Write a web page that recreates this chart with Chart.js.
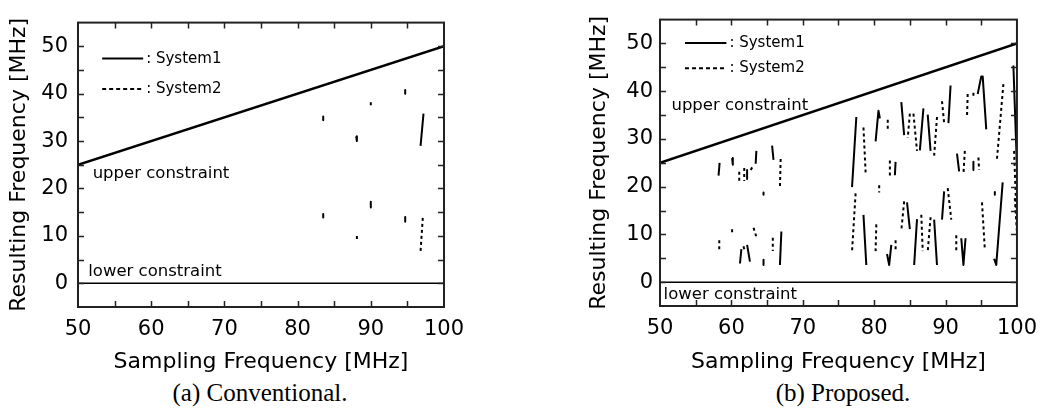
<!DOCTYPE html>
<html>
<head>
<meta charset="utf-8">
<script src="https://cdn.jsdelivr.net/npm/chart.js@4.4.1/dist/chart.umd.min.js"></script>
<style>
  body { margin: 0; background: #fff; width: 1047px; height: 412px; overflow: hidden; position: relative; }
  canvas { position: absolute; top: 0; }
  .caption {
    position: absolute; top: 379px; width: 300px; text-align: center;
    font-family: "Liberation Serif", "Times New Roman", serif; font-size: 25px; color: #000;
  }
</style>
</head>
<body>
<canvas id="chartA" width="520" height="375" style="left:0"></canvas>
<canvas id="chartB" width="467" height="375" style="left:580px"></canvas>
<div class="caption" style="left:110px">(a) Conventional.</div>
<div class="caption" style="left:693px">(b) Proposed.</div>
<script>
// axis ticks
const xTicks = [50, 60, 70, 80, 90, 100];
const yTicks = [0, 10, 20, 30, 40, 50];
const minorStep = 5;

// constraints: fs/2 upper, 0 lower
const upperX = [50, 100];
const upperY = [25, 50];
const lowerX = [50, 100];
const lowerY = [0, 0];

// (a) conventional: each entry is a polyline x1,y1,x2,y2,...
const convSystem1 = [
    [83.5, 35.2, 83.5, 34.4],
    [83.5, 14.6, 83.5, 13.9],
    [88.0, 31.0, 88.1, 30.0],
    [90.0, 17.2, 90.0, 16.0],
    [94.7, 40.8, 94.7, 40.0],
    [94.7, 14.0, 94.7, 13.0],
    [97.2, 35.8, 96.8, 29.0]
];
const convSystem2 = [
    [88.1, 10.0, 88.1, 8.8],
    [90.0, 38.2, 90.0, 37.0],
    [97.1, 13.8, 96.8, 6.8]
];

// (b) proposed
const propSystem1 = [
    [58.35, 25.0, 58.2, 22.3],
    [60.1, 26.0, 60.2, 24.6],
    [62.2, 23.5, 62.2, 21.6],
    [63.5, 27.5, 63.4, 24.8],
    [65.7, 28.6, 65.9, 25.6],
    [64.5, 18.8, 64.5, 18.3],
    [61.2, 3.9, 61.4, 6.9],
    [62.2, 7.8, 62.6, 4.3],
    [64.5, 4.7, 64.5, 3.6],
    [67.0, 10.6, 66.8, 3.6],
    [77.5, 34.6, 76.9, 19.9],
    [78.5, 14.1, 78.9, 3.6],
    [80.2, 29.5, 80.6, 35.9, 80.8, 34.3],
    [83.0, 25.2, 82.9, 22.4],
    [83.8, 37.7, 84.2, 30.8],
    [86.4, 27.6, 86.9, 36.4],
    [87.5, 35.1, 87.9, 27.5],
    [90.4, 33.3, 90.7, 41.2],
    [81.8, 5.9, 82.1, 3.6, 82.4, 7.8],
    [84.6, 16.7, 85.0, 11.1],
    [85.6, 3.6, 86.0, 13.2],
    [88.4, 13.1, 88.8, 3.6],
    [89.5, 13.1, 89.8, 19.0],
    [91.6, 26.9, 91.9, 23.2],
    [93.9, 25.2, 93.9, 23.5],
    [94.5, 39.4, 95.0, 43.1, 95.2, 43.1, 95.7, 32.0],
    [99.5, 45.4, 100.0, 24.0],
    [92.2, 9.2, 92.5, 3.6, 92.8, 9.2],
    [96.9, 18.9, 96.9, 18.3],
    [96.8, 4.9, 97.1, 3.6, 98.0, 20.9]
];
const propSystem2 = [
    [61.1, 23.1, 61.1, 20.6],
    [61.8, 23.9, 61.8, 21.2],
    [62.7, 23.5, 63.1, 24.5],
    [66.9, 25.8, 66.8, 19.9],
    [58.3, 8.8, 58.3, 6.5],
    [60.1, 11.1, 60.1, 9.8],
    [61.7, 7.5, 61.8, 6.9],
    [63.1, 11.4, 63.6, 9.0],
    [65.8, 9.3, 65.8, 6.5],
    [78.5, 32.4, 78.8, 23.0],
    [77.4, 18.6, 76.9, 6.5],
    [81.9, 34.0, 81.9, 31.9],
    [85.0, 35.3, 84.7, 30.2],
    [85.5, 35.3, 86.0, 27.5],
    [88.8, 34.6, 88.4, 26.5],
    [89.5, 37.9, 89.8, 33.3],
    [82.2, 25.5, 82.2, 21.9],
    [80.7, 20.3, 80.7, 18.8],
    [80.3, 12.1, 80.2, 6.5],
    [83.0, 8.8, 83.0, 6.5],
    [84.2, 16.9, 83.8, 10.8],
    [86.6, 14.1, 86.8, 6.5],
    [87.9, 13.6, 87.5, 6.4],
    [93.1, 39.4, 93.0, 34.5],
    [93.9, 39.7, 93.9, 38.9],
    [98.1, 41.5, 97.2, 25.8],
    [99.6, 27.5, 100.0, 11.0],
    [92.7, 27.5, 92.5, 22.5],
    [94.6, 26.1, 94.7, 23.5],
    [90.3, 19.7, 90.8, 13.1],
    [91.5, 9.8, 91.5, 6.2],
    [95.1, 16.7, 95.5, 6.9],
    [99.7, 17.6, 100.0, 10.5]
];

const FONT = 'DejaVu Sans';

// flatten polylines into one point list, with y:null breaks between pieces
function toPoints(segments) {
    const pts = [];
    segments.forEach(seg => {
        for (let i = 0; i < seg.length; i += 2) {
            pts.push({ x: seg[i], y: seg[i + 1] });
        }
        pts.push({ x: seg[seg.length - 2], y: null });
    });
    return pts;
}

function zip(xs, ys) {
    return xs.map((x, i) => ({ x: x, y: ys[i] }));
}

function lineSet(data, width, dash) {
    return {
        data: data,
        borderColor: '#000',
        backgroundColor: '#000',
        borderWidth: width,
        borderDash: dash || [],
        borderJoinStyle: 'round',
        borderCapStyle: 'butt',
        pointRadius: 0,
        tension: 0,
        spanGaps: false
    };
}

// frame with inward ticks on all four sides, plus in-plot text
const framePlugin = {
    id: 'frame',
    afterDraw(chart, args, opts) {
        const { ctx, chartArea: a, scales } = chart;
        const xs = scales.x, ys = scales.y;
        ctx.save();
        ctx.strokeStyle = '#222';
        ctx.lineWidth = 2;
        ctx.strokeRect(a.left, a.top, a.right - a.left, a.bottom - a.top);
        ctx.lineWidth = 1.5;
        ctx.beginPath();
        for (let v = xs.min + minorStep; v < xs.max; v += minorStep) {
            const px = Math.round(xs.getPixelForValue(v)) + 0.5;
            ctx.moveTo(px, a.bottom); ctx.lineTo(px, a.bottom - 6);
            ctx.moveTo(px, a.top); ctx.lineTo(px, a.top + 6);
        }
        for (let v = ys.min + minorStep; v < ys.max; v += minorStep) {
            const py = Math.round(ys.getPixelForValue(v)) + 0.5;
            ctx.moveTo(a.left, py); ctx.lineTo(a.left + 6, py);
            ctx.moveTo(a.right, py); ctx.lineTo(a.right - 6, py);
        }
        ctx.stroke();

        // legend
        ctx.fillStyle = '#000';
        ctx.strokeStyle = '#000';
        ctx.lineWidth = 2;
        ctx.textBaseline = 'middle';
        ctx.textAlign = 'left';
        ctx.font = '15px "' + FONT + '"';
        opts.legend.forEach(item => {
            const y = ys.getPixelForValue(item.y);
            ctx.setLineDash(item.dash);
            ctx.beginPath();
            ctx.moveTo(xs.getPixelForValue(item.x0), y);
            ctx.lineTo(xs.getPixelForValue(item.x1), y);
            ctx.stroke();
            ctx.setLineDash([]);
            ctx.fillText(item.text, xs.getPixelForValue(item.x1) + 3, y);
        });

        ctx.font = '16.5px "' + FONT + '"';
        opts.notes.forEach(n => {
            ctx.fillText(n.text, xs.getPixelForValue(n.x), ys.getPixelForValue(n.y));
        });
        ctx.restore();
    }
};

function buildChart(id, sys1, sys2, axis, frameOpts, padding) {
    return new Chart(document.getElementById(id), {
        type: 'line',
        data: {
            datasets: [
                lineSet(zip(upperX, upperY), 2.5),
                lineSet(zip(lowerX, lowerY), 1.5),
                lineSet(toPoints(sys1), 2),
                lineSet(toPoints(sys2), 2, [3, 3])
            ]
        },
        options: {
            responsive: false,
            animation: false,
            devicePixelRatio: 1,
            layout: { padding: padding },
            plugins: {
                legend: { display: false },
                tooltip: { enabled: false },
                colors: { enabled: false },
                frame: frameOpts
            },
            scales: {
                x: {
                    type: 'linear', min: 50, max: 100,
                    afterBuildTicks: s => { s.ticks = xTicks.map(v => ({ value: v })); },
                    afterFit: s => { s.height = axis.h; },
                    grid: { display: false, drawTicks: false },
                    border: { display: false },
                    ticks: { color: '#000', font: { family: FONT, size: 21 }, padding: 10, maxRotation: 0, autoSkip: false },
                    title: {
                        display: true, text: 'Sampling Frequency [MHz]', color: '#000',
                        font: { family: FONT, size: 22 }, padding: { top: 0, bottom: 0 }
                    }
                },
                y: {
                    type: 'linear', min: -5, max: 55,
                    afterBuildTicks: s => { s.ticks = yTicks.map(v => ({ value: v })); },
                    afterFit: s => { s.width = axis.w; },
                    grid: { display: false, drawTicks: false },
                    border: { display: false },
                    ticks: { color: '#000', font: { family: FONT, size: 21 }, padding: axis.tp },
                    title: {
                        display: true, text: 'Resulting Frequency [MHz]', color: '#000',
                        font: { family: FONT, size: 22 }, padding: { top: 6, bottom: 0 }
                    }
                }
            }
        },
        plugins: [framePlugin]
    });
}

buildChart('chartA', convSystem1, convSystem2,
    { w: 78, h: 68, tp: 10 },
    {
        legend: [
            { x0: 53.3, x1: 58.9, y: 47.4, dash: [], text: ': System1' },
            { x0: 53.3, x1: 58.9, y: 41.0, dash: [4, 3], text: ': System2' }
        ],
        notes: [
            { x: 52.0, y: 23.2, text: 'upper constraint' },
            { x: 51.4, y: 2.4, text: 'lower constraint' }
        ]
    },
    { top: 7, right: 76, left: 0, bottom: 0 });

buildChart('chartB', propSystem1, propSystem2,
    { w: 80, h: 69, tp: 7 },
    {
        legend: [
            { x0: 53.5, x1: 59.3, y: 50.1, dash: [], text: ': System1' },
            { x0: 53.5, x1: 59.3, y: 44.8, dash: [4, 3], text: ': System2' }
        ],
        notes: [
            { x: 51.6, y: 36.9, text: 'upper constraint' },
            { x: 50.5, y: -2.6, text: 'lower constraint' }
        ]
    },
    { top: 1, right: 20, left: 0, bottom: 0 });
</script>
</body>
</html>
